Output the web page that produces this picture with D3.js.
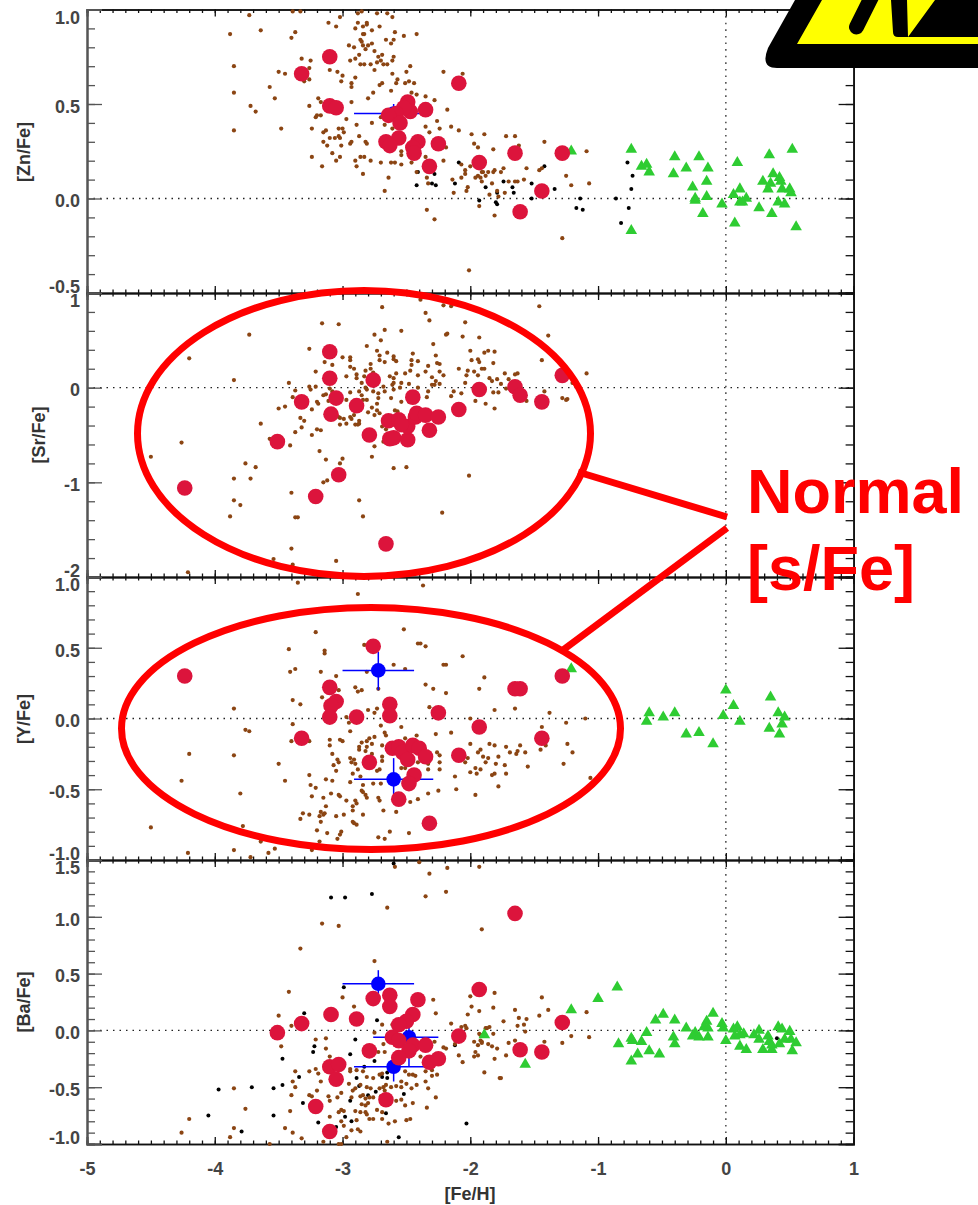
<!DOCTYPE html>
<html>
<head>
<meta charset="utf-8">
<script src="https://d3js.org/d3.v7.min.js"></script>
<style>
body { margin: 0; background: #fff; }
svg { display: block; font-family: "Liberation Sans", Arial, sans-serif; }
</style>
</head>
<body>
<svg id="chart"></svg>
<script>
// values, [ [Fe/H], [X/Fe] ]
var znRed = [[-3.32,0.66],[-3.10,0.75],[-3.10,0.49],[-3.05,0.48],[-2.09,0.61],[-2.35,0.47],[-2.49,0.51],[-2.47,0.46],[-2.52,0.48],[-2.58,0.45],[-2.64,0.44],[-2.55,0.40],[-2.56,0.32],[-2.66,0.30],[-2.63,0.28],[-2.41,0.30],[-2.45,0.27],[-2.44,0.24],[-2.25,0.29],[-2.32,0.17],[-1.93,0.19],[-1.65,0.24],[-1.28,0.24],[-1.44,0.04],[-1.61,-0.07]];
var srRed = [[-4.235,-1.06],[-3.51,-0.57],[-3.32,-0.15],[-3.10,0.38],[-3.10,0.10],[-3.05,-0.11],[-3.09,-0.28],[-3.03,-0.92],[-3.21,-1.15],[-2.89,-0.19],[-2.76,0.08],[-2.79,-0.50],[-2.66,-1.65],[-2.64,-0.35],[-2.56,-0.34],[-2.63,-0.54],[-2.60,-0.53],[-2.49,-0.55],[-2.49,-0.41],[-2.54,-0.39],[-2.45,-0.10],[-2.43,-0.31],[-2.42,-0.27],[-2.35,-0.29],[-2.25,-0.31],[-2.32,-0.45],[-2.09,-0.23],[-1.93,-0.02],[-1.65,0.01],[-1.61,-0.08],[-1.44,-0.15],[-1.28,0.13]];
var yRed = [[-4.235,0.30],[-3.32,-0.14],[-3.10,0.22],[-3.05,0.12],[-3.09,0.09],[-3.10,0.01],[-2.89,0.01],[-2.76,0.51],[-2.79,-0.31],[-2.63,0.10],[-2.63,0.02],[-2.25,0.04],[-2.61,-0.21],[-2.56,-0.20],[-2.53,-0.24],[-2.49,-0.29],[-2.45,-0.19],[-2.40,-0.21],[-2.35,-0.27],[-2.09,-0.26],[-2.44,-0.40],[-2.48,-0.46],[-2.56,-0.57],[-2.32,-0.74],[-1.93,-0.06],[-1.65,0.21],[-1.61,0.21],[-1.44,-0.14],[-1.28,0.30]];
var baRed = [[-3.51,-0.02],[-3.32,0.06],[-3.09,0.14],[-2.89,0.10],[-3.10,-0.32],[-3.03,-0.30],[-3.05,-0.43],[-3.21,-0.67],[-3.10,-0.89],[-2.76,0.28],[-2.63,0.31],[-2.63,0.21],[-2.41,0.27],[-2.45,0.14],[-2.50,0.08],[-2.56,0.05],[-2.61,-0.06],[-2.56,-0.09],[-2.79,-0.18],[-2.45,-0.13],[-2.48,-0.18],[-2.56,-0.24],[-2.35,-0.13],[-2.32,-0.28],[-2.25,-0.25],[-2.66,-0.61],[-1.93,0.36],[-2.09,-0.05],[-1.65,1.03],[-1.28,0.07],[-1.61,-0.17],[-1.44,-0.19]];

// blue stars: [x, y, xLow, xHigh, yLow, yHigh]
var znBlue = [[-2.60,0.45,-2.91,-2.30,0.40,0.50]];
var yBlue = [[-2.72,0.34,-3.0,-2.44,0.20,0.47],[-2.60,-0.43,-2.91,-2.29,-0.54,-0.28]];
var baBlue = [[-2.72,0.41,-3.0,-2.44,0.30,0.53],[-2.48,-0.06,-2.76,-2.25,-0.32,0.05],[-2.60,-0.32,-2.91,-2.32,-0.45,-0.21]];

var znGreen = [[-1.21,0.25],[-0.74,0.26],[-0.74,-0.17],[-0.66,0.17],[-0.62,0.18],[-0.60,0.14],[-0.40,0.22],[-0.41,0.13],[-0.31,0.16],[-0.21,0.22],[-0.14,0.16],[-0.15,0.09],[-0.26,0.06],[-0.24,-0.01],[-0.24,0.0],[-0.15,0.01],[-0.18,-0.08],[-0.03,-0.03],[0.09,0.19],[0.06,0.02],[0.11,0.05],[0.16,0.0],[0.11,-0.02],[0.13,-0.02],[0.07,-0.13],[0.26,-0.05],[0.29,0.09],[0.33,0.05],[0.35,0.08],[0.37,0.13],[0.34,0.23],[0.42,0.11],[0.43,0.09],[0.44,0.05],[0.41,-0.02],[0.46,-0.03],[0.36,-0.08],[0.50,0.05],[0.51,0.03],[0.52,0.26],[0.55,-0.15]];
var yGreen = [[-1.21,0.35],[-0.60,0.04],[-0.62,-0.02],[-0.49,0.01],[-0.40,0.04],[-0.31,-0.11],[-0.21,-0.10],[-0.10,-0.18],[0,0.20],[0.06,0.09],[-0.02,0.02],[0.11,-0.02],[0.35,0.15],[0.41,0.04],[0.46,0.01],[0.44,-0.04],[0.34,-0.07],[0.42,-0.11]];
var baGreen = [[-1.89,-0.04],[-1.57,-0.30],[-1.21,0.18],[-1.0,0.28],[-0.85,0.38],[-0.84,-0.12],[-0.74,-0.07],[-0.73,-0.09],[-0.66,-0.10],[-0.62,-0.02],[-0.60,-0.18],[-0.69,-0.21],[-0.74,-0.27],[-0.52,-0.21],[-0.55,0.09],[-0.49,0.14],[-0.40,0.09],[-0.41,-0.06],[-0.40,-0.12],[-0.31,0.02],[-0.24,-0.02],[-0.26,-0.05],[-0.21,-0.06],[-0.14,-0.06],[-0.15,0.08],[-0.17,0.03],[-0.14,0.02],[-0.10,0.15],[-0.03,0.06],[-0.02,0.02],[0,-0.09],[0.06,0.01],[0.09,0.03],[0.07,-0.05],[0.11,-0.04],[0.14,-0.03],[0.11,-0.14],[0.16,-0.17],[0.22,-0.04],[0.26,0],[0.26,-0.08],[0.29,-0.17],[0.33,-0.05],[0.34,-0.10],[0.36,-0.17],[0.36,-0.13],[0.42,-0.12],[0.41,0.03],[0.44,0.01],[0.46,-0.08],[0.50,-0.01],[0.51,-0.08],[0.52,-0.18],[0.55,-0.11]];

var znBlack = [[-2.42,0.07],[-2.41,0.14],[-2.28,0.13],[-2.30,0.08],[-2.27,0.07],[-2.09,0.19],[-2.12,0.08],[-1.93,-0.01],[-1.88,0.06],[-1.80,-0.02],[-1.79,-0.03],[-1.79,0.03],[-1.74,0.09],[-1.67,0.06],[-1.66,0.03],[-1.52,0.08],[-1.52,0],[-1.42,0.17],[-1.34,0.05],[-1.17,-0.05],[-1.14,0],[-1.12,-0.06],[-0.86,0],[-0.82,-0.13],[-0.76,-0.05],[-0.77,0.19],[-0.73,0.12],[-0.74,0.05]];
var baBlack = [[-2.60,1.47],[-3.09,1.17],[-2.98,1.17],[-2.77,1.20],[-3.30,0.15],[-2.99,0.38],[-2.73,0.09],[-2.90,-0.08],[-3.22,-0.14],[-3.23,-0.19],[-3.47,-0.25],[-2.94,-0.21],[-2.75,-0.27],[-2.83,-0.32],[-2.94,-0.62],[-3.34,-0.41],[-3.47,-0.48],[-3.54,-0.51],[-3.71,-0.50],[-3.97,-0.52],[-4.05,-0.75],[-3.54,-0.75],[-3.79,-0.89],[-3.31,-0.64],[-3.19,-0.81],[-3.05,-0.85],[-2.98,-0.76],[-2.93,-0.80],[-2.89,-0.42],[-2.87,-0.49],[-2.80,-0.57],[-2.74,-0.54],[-2.69,-0.41],[-2.65,-0.42],[-2.65,-0.37],[-2.66,-0.73],[-2.52,-0.56],[-2.56,-0.94],[-2.03,-0.82],[-2.12,-0.13],[0.40,-0.07]];

var znBrown = [[-3.88,0.87],[-3.85,0.70],[-3.85,0.56],[-3.85,0.36],[-3.72,0.49],[-3.68,0.46],[-3.73,0.97],[-3.64,0.89],[-3.57,0.59],[-3.53,0.53],[-3.50,0.67],[-3.45,0.66],[-3.48,0.37],[-3.40,0.85],[-3.37,0.88],[-3.39,0.99],[-3.33,0.99],[-3.32,0.74],[-3.25,0.73],[-3.26,0.69],[-3.26,0.63],[-3.30,0.62],[-3.26,0.49],[-3.24,0.37],[-3.24,0.22],[-3.16,0.17],[-3.19,0.53],[-3.17,0.51],[-3.21,0.43],[-3.20,0.44],[-3.17,0.44],[-3.15,0.35],[-3.13,0.36],[-3.15,0.30],[-3.12,0.28],[-3.08,0.24],[-3.05,0.20],[-3.02,0.22],[-3.10,0.32],[-3.06,0.32],[-3.03,0.33],[-3.02,0.32],[-3.03,0.37],[-3.00,0.37],[-2.99,0.35],[-3.01,0.28],[-2.97,0.42],[-2.93,0.51],[-2.94,0.29],[-2.93,0.30],[-2.89,0.39],[-2.87,0.33],[-2.90,0.20],[-2.89,0.17],[-2.86,0.22],[-2.83,0.22],[-2.84,0.13],[-2.78,0.20],[-2.82,0.30],[-2.81,0.29],[-2.77,0.40],[-2.80,0.53],[-2.76,0.56],[-2.70,0.43],[-2.70,0.19],[-2.64,0.11],[-2.67,0.04],[-2.62,0.19],[-2.59,0.19],[-2.54,0.18],[-2.61,0.37],[-2.67,0.39],[-2.62,0.57],[-2.54,0.25],[-2.54,0.23],[-2.46,0.19],[-2.42,0.23],[-2.35,0.22],[-2.42,0.14],[-2.34,0.11],[-2.33,0.08],[-2.34,-0.06],[-2.28,-0.11],[-2.21,0.20],[-2.19,0.27],[-2.24,0.37],[-2.15,0.38],[-2.09,0.36],[-2.32,0.35],[-2.26,0.41],[-2.35,0.38],[-2.18,0.47],[-2.28,0.52],[-2.35,0.54],[-2.42,0.55],[-2.46,0.56],[-2.44,0.61],[-2.48,0.62],[-2.51,0.61],[-2.50,0.67],[-2.47,0.70],[-2.57,0.63],[-2.58,0.61],[-2.61,0.66],[-2.69,0.61],[-2.71,0.60],[-2.21,0.67],[-2.06,0.66],[-2.42,0.87],[-2.52,0.86],[-2.59,0.88],[-2.60,0.84],[-2.62,0.82],[-2.66,0.84],[-2.60,0.75],[-2.61,0.73],[-2.65,0.98],[-2.73,0.98],[-2.61,0.96],[-2.71,0.91],[-2.77,0.89],[-2.81,0.93],[-2.81,0.92],[-2.85,0.99],[-2.88,0.98],[-2.88,0.93],[-2.84,0.91],[-2.90,0.90],[-2.84,0.87],[-2.83,0.87],[-2.86,0.84],[-2.85,0.83],[-2.84,0.81],[-2.82,0.79],[-2.80,0.81],[-2.77,0.82],[-2.75,0.78],[-2.95,0.81],[-2.91,0.80],[-2.87,0.76],[-2.90,0.74],[-2.94,0.73],[-2.86,0.71],[-2.83,0.71],[-2.78,0.71],[-2.73,0.72],[-2.72,0.75],[-2.69,0.76],[-2.70,0.73],[-2.68,0.71],[-2.65,0.71],[-2.75,0.68],[-2.90,0.64],[-2.93,0.61],[-2.93,0.59],[-3.00,0.65],[-3.01,0.62],[-3.04,0.67],[-3.10,0.68],[-3.11,0.93],[-3.05,0.91],[-3.02,0.96],[-1.89,0.34],[-1.72,0.33],[-1.65,0.33],[-1.94,0.27],[-1.82,0.26],[-1.62,0.28],[-1.42,0.30],[-1.09,0.25],[-1.56,0.16],[-1.74,0.16],[-1.76,0.14],[-1.81,0.15],[-1.82,0.14],[-1.86,0.14],[-1.90,0.14],[-1.91,0.14],[-1.94,0.12],[-1.92,0.11],[-1.88,0.12],[-1.91,0.09],[-1.83,0.08],[-1.70,0.09],[-1.65,0.09],[-1.63,0.09],[-1.58,0.10],[-1.46,0.15],[-1.44,0.16],[-1.25,0.12],[-1.21,0.07],[-1.07,0.08],[-1.85,0.02],[-1.79,0.04],[-1.78,0.01],[-1.73,0.03],[-1.93,-0.04],[-1.81,-0.09],[-1.28,-0.21],[-1.99,0.34],[-1.97,0.29],[-2.07,0.18],[-2.04,0.15],[-2.0,0.17],[-2.14,0.10],[-2.04,0.13],[-2.07,0.11],[-2.13,0.03],[-2.02,0.06],[-2.03,0.04],[-1.96,0.11],[-2.01,-0.38]];
var srBrown = [[-4.21,-1.95],[-4.50,-0.73],[-4.26,-0.58],[-4.20,0.31],[-3.85,0.08],[-3.73,0.56],[-3.85,-0.96],[-3.72,-0.96],[-3.76,-0.80],[-3.68,-0.84],[-3.85,-1.19],[-3.80,-1.24],[-3.88,-1.36],[-3.40,-1.11],[-3.37,-1.37],[-3.35,-1.37],[-3.40,-1.70],[-3.54,-1.81],[-3.39,-1.87],[-3.05,-1.83],[-3.64,-0.38],[-3.57,-0.54],[-3.50,-0.22],[-3.45,-0.20],[-3.41,-0.61],[-3.42,0.05],[-3.37,-0.03],[-3.39,-0.10],[-3.37,-0.47],[-3.32,-0.42],[-3.33,-0.32],[-3.30,-0.35],[-3.24,-0.23],[-3.24,-0.50],[-3.20,-0.44],[-3.17,-0.45],[-3.18,-0.67],[-3.13,-0.76],[-3.02,-0.80],[-3.00,-0.75],[-3.15,-1.00],[-3.12,-0.98],[-2.87,-1.19],[-2.84,-1.36],[-2.77,-0.73],[-2.75,-0.62],[-2.60,-0.85],[-2.50,-0.84],[-2.22,-1.32],[-2.01,-0.93],[-3.26,0.41],[-3.16,0.68],[-3.03,0.67],[-3.14,0.27],[-3.08,0.24],[-3.21,0.17],[-3.26,0.01],[-3.25,-0.02],[-3.21,0.01],[-3.20,-0.15],[-3.19,-0.17],[-3.15,-0.08],[-3.13,-0.07],[-3.11,-0.14],[-3.10,-0.01],[-3.08,-0.04],[-3.00,0.32],[-2.94,0.32],[-2.94,0.29],[-2.94,0.22],[-2.91,0.20],[-2.97,0.12],[-2.89,0.14],[-2.89,0.10],[-2.81,0.44],[-2.75,0.56],[-2.69,0.85],[-2.70,0.50],[-2.67,0.61],[-2.54,0.60],[-2.73,0.39],[-2.71,0.34],[-2.71,0.29],[-2.65,0.37],[-2.78,0.25],[-2.78,0.20],[-2.82,0.18],[-2.60,0.33],[-2.60,0.30],[-2.67,0.27],[-2.58,0.28],[-2.76,0.16],[-2.83,0.12],[-2.85,0.05],[-2.82,0.0],[-2.87,-0.04],[-2.94,-0.05],[-2.85,-0.08],[-2.84,-0.13],[-2.81,-0.13],[-2.81,-0.02],[-2.76,-0.04],[-2.72,-0.06],[-2.68,0.01],[-2.67,-0.04],[-2.72,-0.11],[-2.73,-0.17],[-2.62,-0.11],[-2.61,0.03],[-2.63,0.12],[-2.60,0.10],[-2.58,0.15],[-2.60,0.05],[-2.54,0.05],[-2.60,-0.02],[-2.51,0.15],[-2.48,0.04],[-2.47,0.18],[-2.46,0.24],[-2.46,0.29],[-2.45,0.36],[-2.41,0.28],[-2.33,0.23],[-2.27,0.34],[-2.26,0.26],[-2.24,0.25],[-2.29,0.46],[-2.41,0.13],[-2.35,0.17],[-2.30,0.11],[-2.27,0.07],[-2.24,0.17],[-2.21,0.13],[-2.30,0.03],[-2.28,0.03],[-2.34,-0.10],[-2.33,-0.04],[-2.41,0.0],[-2.24,0.04],[-2.48,-0.15],[-2.54,-0.15],[-2.55,0],[-2.39,0.93],[-2.35,0.79],[-2.32,0.71],[-2.21,0.87],[-2.15,0.86],[-2.19,0.56],[-2.18,0.57],[-2.04,0.69],[-2.06,0.54],[-1.93,0.53],[-1.46,0.86],[-1.39,0.55],[-1.44,0.29],[-1.09,0.15],[-2.0,0.39],[-1.99,0.29],[-1.94,0.30],[-1.93,0.27],[-1.89,0.37],[-1.86,0.39],[-1.81,0.38],[-1.82,0.26],[-2.09,0.20],[-2.02,0.18],[-2.03,0.13],[-1.97,0.17],[-1.91,0.20],[-1.89,0.20],[-1.94,0.13],[-1.85,0.10],[-1.83,0.07],[-1.79,0.09],[-1.76,0.04],[-1.73,0.15],[-1.70,0.09],[-1.65,0.14],[-1.63,0.15],[-2.04,0.05],[-2.07,-0.06],[-2.13,-0.04],[-2.15,-0.09],[-1.96,-0.14],[-1.82,-0.05],[-1.78,-0.05],[-1.88,-0.17],[-1.81,-0.22],[-1.72,-0.01],[-1.42,-0.04],[-1.56,-0.14],[-1.28,-0.11],[-1.24,-0.12],[-1.25,-0.13],[-1.20,0.05],[-3.02,-0.32],[-2.99,-0.33],[-3.02,-0.39],[-2.97,-0.38],[-2.94,-0.31],[-2.93,-0.33],[-2.91,-0.29],[-2.90,-0.39],[-2.87,-0.35],[-2.88,-0.39],[-2.87,-0.38],[-2.80,-0.26],[-2.75,-0.29],[-2.77,-0.21],[-2.73,-0.24],[-2.71,-0.27],[-2.69,-0.41],[-2.68,-0.57],[-2.66,-0.44],[-2.59,-0.24],[-2.57,-0.25],[-2.97,-0.13],[-2.91,-0.17],[-3.03,-0.31]];
var yBrown = [[-3.35,0.96],[-2.88,0.88],[-2.37,0.94],[-3.21,0.61],[-2.52,0.63],[-3.42,0.49],[-3.14,0.48],[-3.14,0.46],[-2.83,0.52],[-2.41,0.53],[-2.39,0.53],[-2.35,0.51],[-2.06,0.44],[-2.21,0.38],[-2.19,0.38],[-2.60,0.38],[-2.51,0.35],[-3.41,0.33],[-3.37,0.35],[-3.17,0.33],[-3.05,0.30],[-2.81,0.33],[-1.89,0.29],[-2.35,0.24],[-2.29,0.21],[-2.19,0.18],[-1.93,0.21],[-3.03,0.20],[-2.90,0.22],[-2.85,0.20],[-2.88,0.19],[-2.72,0.21],[-3.16,0.15],[-3.39,0.13],[-3.33,0.10],[-3.85,0.07],[-2.80,0.06],[-2.75,0.04],[-2.73,0.07],[-2.32,0.08],[-1.65,0.07],[-1.81,0.06],[-1.38,0.04],[-2.0,0],[-1.10,0],[-1.25,-0.03],[-2.97,0.01],[-2.95,-0.03],[-3.39,-0.04],[-2.70,-0.05],[-2.54,-0.06],[-3.76,-0.08],[-3.73,-0.09],[-2.94,-0.09],[-2.67,-0.10],[-2.66,-0.12],[-2.51,-0.14],[-2.42,-0.12],[-2.27,-0.11],[-2.15,-0.10],[-1.44,-0.06],[-3.40,-0.16],[-3.26,-0.16],[-3.10,-0.15],[-3.02,-0.15],[-3.00,-0.16],[-3.10,-0.19],[-2.81,-0.16],[-2.79,-0.14],[-2.75,-0.13],[-2.85,-0.17],[-2.87,-0.20],[-2.87,-0.22],[-2.81,-0.20],[-2.77,-0.18],[-2.82,-0.23],[-2.69,-0.19],[-4.20,-0.25],[-3.85,-0.26],[-3.08,-0.25],[-3.50,-0.32],[-3.04,-0.29],[-3.03,-0.31],[-3.07,-0.33],[-3.05,-0.37],[-2.94,-0.28],[-2.91,-0.29],[-2.93,-0.31],[-2.90,-0.32],[-2.88,-0.36],[-2.92,-0.39],[-2.77,-0.25],[-2.69,-0.27],[-2.69,-0.30],[-2.71,-0.36],[-2.73,-0.37],[-2.54,-0.35],[-2.51,-0.35],[-2.33,-0.32],[-2.33,-0.36],[-2.24,-0.26],[-2.24,-0.31],[-2.24,-0.36],[-2.26,-0.24],[-2.41,-0.31],[-3.26,-0.40],[-3.45,-0.44],[-4.26,-0.44],[-3.80,-0.53],[-3.13,-0.43],[-3.08,-0.44],[-2.94,-0.45],[-2.86,-0.41],[-2.84,-0.47],[-2.76,-0.46],[-2.70,-0.46],[-3.25,-0.47],[-3.21,-0.49],[-2.12,-0.41],[-2.0,-0.38],[-1.95,-0.39],[-1.96,-0.35],[-1.92,-0.36],[-1.81,-0.39],[-1.72,-0.39],[-1.83,-0.40],[-1.78,-0.48],[-2.11,-0.50],[-2.25,-0.51],[-2.33,-0.53],[-2.41,-0.57],[-2.47,-0.59],[-1.96,-0.54],[-2.04,-0.31],[-2.02,-0.28],[-2.0,-0.18],[-1.94,-0.24],[-1.92,-0.22],[-1.90,-0.27],[-1.88,-0.31],[-1.86,-0.28],[-1.85,-0.18],[-1.81,-0.19],[-1.80,-0.32],[-1.78,-0.27],[-1.73,-0.33],[-1.72,-0.20],[-1.69,-0.24],[-1.64,-0.25],[-1.63,-0.23],[-1.61,-0.19],[-1.57,-0.24],[-1.55,-0.34],[-1.45,-0.22],[-1.41,-0.19],[-1.24,-0.18],[-1.20,-0.24],[-1.27,-0.32],[-1.06,-0.42],[-3.24,-0.55],[-3.15,-0.56],[-3.09,-0.53],[-3.03,-0.54],[-3.02,-0.55],[-2.97,-0.58],[-2.90,-0.58],[-2.89,-0.60],[-2.85,-0.51],[-2.84,-0.52],[-2.82,-0.54],[-2.81,-0.56],[-2.72,-0.56],[-2.71,-0.58],[-3.13,-0.62],[-3.17,-0.66],[-2.92,-0.62],[-2.92,-0.65],[-2.68,-0.65],[-2.58,-0.66],[-3.31,-0.67],[-3.26,-0.68],[-3.33,-0.71],[-3.18,-0.69],[-3.15,-0.68],[-3.14,-0.67],[-3.05,-0.69],[-2.99,-0.68],[-2.84,-0.68],[-3.17,-0.73],[-2.92,-0.73],[-2.91,-0.74],[-2.89,-0.75],[-3.20,-0.79],[-3.12,-0.81],[-3.01,-0.80],[-3.02,-0.82],[-3.04,-0.85],[-2.63,-0.80],[-2.48,-0.81],[-2.72,-0.84],[-2.67,-0.85],[-3.18,-0.87],[-4.50,-0.77],[-3.78,-0.76],[-3.64,-0.87],[-3.53,-0.92],[-3.58,-0.95],[-3.24,-0.93],[-3.85,-0.93],[-4.21,-0.95],[-3.72,-0.98]];
var baBrown = [[-2.59,1.44],[-2.40,1.48],[-2.32,1.38],[-2.18,1.43],[-1.93,1.44],[-2.19,1.22],[-2.35,1.18],[-2.65,1.08],[-3.16,0.94],[-3.03,0.92],[-1.91,0.89],[-3.33,0.72],[-2.75,0.61],[-3.42,0.34],[-3.0,0.29],[-2.91,0.21],[-2.29,0.27],[-2.27,0.15],[-2.15,0.06],[-3.50,0.13],[-3.40,0.04],[-3.48,-0.14],[-3.21,-0.08],[-3.13,-0.07],[-3.13,-0.16],[-3.10,-0.23],[-2.69,0.05],[-2.61,0.05],[-2.75,-0.02],[-2.68,-0.12],[-2.72,-0.19],[-2.67,-0.19],[-3.37,-0.36],[-3.26,-0.36],[-3.21,-0.34],[-3.19,-0.38],[-3.17,-0.45],[-3.39,-0.45],[-3.37,-0.50],[-3.40,-0.57],[-3.26,-0.57],[-3.24,-0.58],[-3.20,-0.53],[-3.41,-0.71],[-3.11,-0.58],[-3.10,-0.62],[-3.04,-0.59],[-3.01,-0.55],[-3.85,-0.51],[-3.76,-0.69],[-4.20,-0.78],[-4.26,-0.90],[-3.85,-0.86],[-3.88,-0.94],[-3.57,-1.0],[-3.45,-0.86],[-3.39,-0.90],[-3.32,-0.95],[-3.10,-0.76],[-3.01,-0.70],[-3.03,-0.72],[-2.99,-0.71],[-3.01,-0.80],[-2.99,-0.84],[-2.93,-0.88],[-2.97,-0.94],[-2.88,-0.87],[-2.86,-0.89],[-2.89,-0.79],[-2.90,-0.71],[-2.93,-0.59],[-2.95,-0.47],[-2.94,-0.34],[-2.94,-0.36],[-2.89,-0.35],[-2.84,-0.36],[-2.81,-0.41],[-2.76,-0.42],[-2.86,-0.48],[-2.81,-0.50],[-2.78,-0.51],[-2.92,-0.53],[-2.90,-0.51],[-2.84,-0.57],[-2.86,-0.58],[-2.82,-0.60],[-2.79,-0.59],[-2.76,-0.59],[-2.80,-0.64],[-2.82,-0.66],[-2.85,-0.65],[-2.86,-0.72],[-2.82,-0.72],[-2.81,-0.74],[-2.79,-0.78],[-2.76,-0.78],[-2.73,-0.70],[-2.69,-0.72],[-2.69,-0.78],[-2.64,-0.82],[-2.59,-0.80],[-2.65,-0.98],[-2.50,-0.79],[-2.47,-0.78],[-2.51,-0.66],[-2.45,-0.64],[-2.58,-0.62],[-2.54,-0.61],[-2.34,-0.68],[-2.27,-0.59],[-2.33,-0.51],[-2.35,-0.45],[-2.42,-0.48],[-2.43,-0.40],[-2.45,-0.39],[-2.48,-0.39],[-2.51,-0.36],[-2.54,-0.45],[-2.50,-0.47],[-2.46,-0.51],[-2.54,-0.50],[-2.58,-0.49],[-2.62,-0.50],[-2.68,-0.50],[-2.66,-0.48],[-2.67,-0.53],[-2.71,-0.51],[-2.70,-0.58],[-2.71,-0.39],[-2.69,-0.38],[-2.30,-0.35],[-2.30,-0.40],[-2.26,-0.39],[-2.35,-0.36],[-2.21,-0.15],[-2.19,-0.16],[-2.28,-0.10],[-2.39,-0.23],[-2.56,-0.19],[-3.03,-1.0],[-3.15,-0.98],[-3.01,-1.0],[-2.09,-0.22],[-2.06,-0.28],[-2.12,-0.12],[-2.07,0.03],[-2.04,0.04],[-2.03,0.02],[-2.02,0.14],[-2.0,0.30],[-1.99,0.21],[-1.81,0.33],[-1.93,0.17],[-1.82,0.20],[-1.89,-0.37],[-1.97,-0.10],[-1.96,-0.19],[-1.97,-0.23],[-1.94,-0.22],[-1.94,-0.13],[-1.91,-0.10],[-1.92,-0.04],[-1.87,0.02],[-1.85,0.03],[-1.86,-0.12],[-1.83,-0.14],[-1.79,-0.16],[-1.81,-0.25],[-1.77,-0.42],[-1.65,0.18],[-1.62,0.11],[-1.56,0.10],[-1.44,0.29],[-1.46,0.13],[-1.39,0.18],[-1.09,0.16],[-1.74,0.08],[-1.63,0.04],[-1.58,0.05],[-1.57,-0.01],[-1.88,0.02],[-1.82,-0.03],[-1.65,-0.09],[-1.70,-0.11],[-1.72,-0.22],[-1.76,-0.42],[-1.42,-0.10],[-1.28,-0.11],[-1.21,-0.05],[-1.07,-0.06],[-1.92,-0.09],[-1.91,-0.11],[-1.93,-0.03]];

var xTicks = [-5,-4,-3,-2,-1,0,1];
var znTicks = [1.0,0.5,0.0,-0.5];
var srTicks = [1,0,-1,-2];
var yTicks = [1.0,0.5,0.0,-0.5,-1.0];
var baTicks = [1.5,1.0,0.5,0.0,-0.5,-1.0];

var panels = [
  {name: "[Zn/Fe]", top: 9.5, bottom: 293, domain: [-0.5,1.0], ticks: znTicks, minor: 0.1, fmt: ".1f", titleX: 24, titleY: 152,
   brown: znBrown, black: znBlack, green: znGreen, blue: znBlue, red: znRed},
  {name: "[Sr/Fe]", top: 293, bottom: 577, domain: [-2,1], ticks: srTicks, minor: 0.2, fmt: "d", titleX: 39, titleY: 435,
   brown: srBrown, black: [], green: [], blue: [], red: srRed},
  {name: "[Y/Fe]", top: 577, bottom: 860, domain: [-1,1], ticks: yTicks, minor: 0.1, fmt: ".1f", titleX: 24, titleY: 719,
   brown: yBrown, black: [], green: yGreen, blue: yBlue, red: yRed},
  {name: "[Ba/Fe]", top: 860, bottom: 1144, domain: [-1,1.5], ticks: baTicks, minor: 0.1, fmt: ".1f", titleX: 24, titleY: 1002,
   brown: baBrown, black: baBlack, green: baGreen, blue: baBlue, red: baRed}
];

var svg = d3.select("#chart").attr("width", 978).attr("height", 1205);
var xScale = d3.scaleLinear().domain([-5,1]).range([87,853.6]);
var xMinor = d3.range(-50,11).map(function(d){ return d/10; });
var tri = d3.symbol().type(d3.symbolTriangle).size(58);

// idl style labels use a plain hyphen
var hyphen = function(fmt)
{
    var f = d3.format(fmt);
    return function(d){ return f(d).replace("\u2212", "-"); };
}

var niceTick = function(g, col, wid)
{
    g.selectAll("path").attr("stroke", col).attr("stroke-width", wid);
    g.selectAll("line").attr("stroke", col).attr("stroke-width", 1.3);
}

var drawPanel = function(p, i)
{
    var yScale = d3.scaleLinear().domain(p.domain).range([p.bottom, p.top]);
    var n = Math.round((p.domain[1]-p.domain[0])/p.minor);
    var yMinor = d3.range(n+1).map(function(k){ return p.domain[0]+k*p.minor; });
    var g = svg.append("g").attr("class", "panel");

    // dotted zero line
    g.append("line")
        .attr("x1", xScale(-5)).attr("x2", xScale(1))
        .attr("y1", yScale(0)).attr("y2", yScale(0))
        .attr("stroke", "#222").attr("stroke-width", 1.3).attr("stroke-dasharray", "1.5,5");

    // x ticks, top and bottom, pointing in
    [[d3.axisTop, p.top, 1], [d3.axisBottom, p.bottom, 1]].forEach(function(a)
    {
        g.append("g").attr("transform", "translate(0," + a[1] + ")")
            .call(a[0](xScale).tickValues(xMinor).tickSize(-3.5).tickFormat(""))
            .call(niceTick, "#111", 1.6);
        g.append("g").attr("transform", "translate(0," + a[1] + ")")
            .call(a[0](xScale).tickValues(xTicks).tickSize(-7).tickFormat(""))
            .call(niceTick, "#111", 1.6);
    });

    // y ticks
    g.append("g").attr("transform", "translate(" + xScale(-5) + ",0)")
        .call(d3.axisLeft(yScale).tickValues(yMinor).tickSize(-8).tickFormat(""))
        .call(niceTick, "#555", 2);
    g.append("g").attr("transform", "translate(" + xScale(1) + ",0)")
        .call(d3.axisRight(yScale).tickValues(yMinor).tickSize(-8).tickFormat(""))
        .call(niceTick, "#111", 1.6);
    g.append("g").attr("transform", "translate(" + xScale(1) + ",0)")
        .call(d3.axisRight(yScale).tickValues(p.ticks).tickSize(-15).tickFormat(""))
        .call(niceTick, "#111", 1.6);

    var lab = g.append("g").attr("transform", "translate(" + xScale(-5) + ",0)")
        .call(d3.axisLeft(yScale).tickValues(p.ticks).tickSize(-15).tickPadding(7).tickFormat(hyphen(p.fmt)))
        .call(niceTick, "#555", 2);
    lab.selectAll("text")
        .attr("fill", "#444").attr("font-size", 18).attr("font-weight", "bold")
        .attr("font-family", "'Liberation Sans', Arial, sans-serif")
        .attr("y", function(d)
        {
            if (d == p.domain[1]) return 8;
            if (d == p.domain[0]) return -6;
            return 2.5;
        });

    // y title
    g.append("text")
        .attr("transform", "translate(" + p.titleX + "," + p.titleY + ") rotate(-90)")
        .attr("dy", "0.35em").attr("text-anchor", "middle")
        .attr("font-size", 18).attr("font-weight", "bold").attr("fill", "#333")
        .text(p.name);

    g.selectAll("circle.black").data(p.black).enter().append("circle")
        .attr("class", "black").attr("r", 2).attr("fill", "#000")
        .attr("cx", function(d){ return xScale(d[0]); })
        .attr("cy", function(d){ return yScale(d[1]); });
    g.selectAll("circle.brown").data(p.brown).enter().append("circle")
        .attr("class", "brown").attr("r", 2.1).attr("fill", "#8B4513")
        .attr("cx", function(d){ return xScale(d[0]); })
        .attr("cy", function(d){ return yScale(d[1]); });
    g.selectAll("path.green").data(p.green).enter().append("path")
        .attr("class", "green").attr("d", tri).attr("fill", "#2ECC32")
        .attr("transform", function(d){ return "translate(" + xScale(d[0]) + "," + yScale(d[1]) + ")"; });

    // blue with error bars
    p.blue.forEach(function(b)
    {
        g.append("line").attr("stroke", "#0000FF").attr("stroke-width", 1.5)
            .attr("x1", xScale(b[2])).attr("x2", xScale(b[3]))
            .attr("y1", yScale(b[1])).attr("y2", yScale(b[1]));
        g.append("line").attr("stroke", "#0000FF").attr("stroke-width", 1.5)
            .attr("x1", xScale(b[0])).attr("x2", xScale(b[0]))
            .attr("y1", yScale(b[4])).attr("y2", yScale(b[5]));
        g.append("circle").attr("r", 7.3).attr("fill", "#0000FF")
            .attr("cx", xScale(b[0])).attr("cy", yScale(b[1]));
    });

    g.selectAll("circle.red").data(p.red).enter().append("circle")
        .attr("class", "red").attr("r", 7.8).attr("fill", "#DC143C")
        .attr("cx", function(d){ return xScale(d[0]); })
        .attr("cy", function(d){ return yScale(d[1]); });
}

// vertical dotted line at solar, under the points
svg.append("line")
    .attr("x1", xScale(0)).attr("x2", xScale(0))
    .attr("y1", 9.5).attr("y2", 1144)
    .attr("stroke", "#555").attr("stroke-width", 1.6).attr("stroke-dasharray", "1.6,5");

panels.forEach(drawPanel);

// bottom tick labels
svg.append("g").attr("transform", "translate(0,1144)")
    .call(d3.axisBottom(xScale).tickValues(xTicks).tickSize(0).tickPadding(18).tickFormat(hyphen("d")))
    .call(function(g)
    {
        g.select("path").remove();
        g.selectAll("text").attr("fill", "#444").attr("font-size", 18).attr("font-weight", "bold")
            .attr("font-family", "'Liberation Sans', Arial, sans-serif");
    });

svg.append("text").attr("x", 470).attr("y", 1200)
    .attr("text-anchor", "middle").attr("font-size", 18).attr("font-weight", "bold").attr("fill", "#333")
    .text("[Fe/H]");

// hand drawn annotations
var note = svg.append("g");
note.append("ellipse").attr("cx", 364).attr("cy", 433.5).attr("rx", 226.5).attr("ry", 143)
    .attr("fill", "none").attr("stroke", "#FF0000").attr("stroke-width", 7);
note.append("ellipse").attr("cx", 371).attr("cy", 728.5).attr("rx", 249.5).attr("ry", 121)
    .attr("fill", "none").attr("stroke", "#FF0000").attr("stroke-width", 7);
note.append("line").attr("x1", 578).attr("y1", 472).attr("x2", 727).attr("y2", 517)
    .attr("stroke", "#FF0000").attr("stroke-width", 7);
note.append("line").attr("x1", 563).attr("y1", 650).attr("x2", 727).attr("y2", 528)
    .attr("stroke", "#FF0000").attr("stroke-width", 7);
note.append("text").attr("x", 747).attr("y", 513)
    .attr("font-size", 63).attr("font-weight", "bold").attr("fill", "#FF0000").text("Normal");
note.append("text").attr("x", 747).attr("y", 590)
    .attr("font-size", 63).attr("font-weight", "bold").attr("fill", "#FF0000").text("[s/Fe]");

// warning sign cut off by the top edge
var sign = svg.append("g");
sign.append("path").attr("fill", "#000")
    .attr("d", "M795,0 L768,48 Q760,68 777,68 L978,68 L978,0 Z");
sign.append("path").attr("fill", "#FFFF00")
    .attr("d", "M797,44 L822,0 L935,0 L908,37 L978,37 L978,44 Z");
sign.append("line").attr("x1", 873).attr("y1", -6).attr("x2", 856.5).attr("y2", 27)
    .attr("stroke", "#000").attr("stroke-width", 15).attr("stroke-linecap", "round");
sign.append("path").attr("fill", "#000")
    .attr("d", "M891,0 L893,32 Q893,37 898,37 L908,37 L907,0 Z");
</script>
</body>
</html>
